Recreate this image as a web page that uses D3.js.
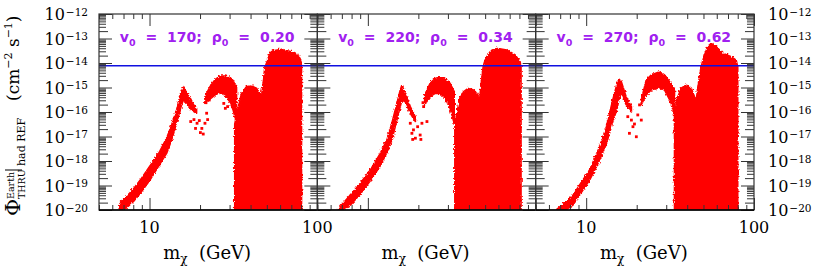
<!DOCTYPE html>
<html><head><meta charset="utf-8">
<script src="https://cdn.jsdelivr.net/npm/d3@7/dist/d3.min.js"></script>
<style>body{margin:0;background:#fff}svg{display:block}</style>
</head><body>
<script>
// ---------- data ----------
const v0Values = [170, 220, 270];
const rho0Values = ["0.20", "0.34", "0.62"];
const xTickLabels = [[10, 100], [], [10, 100]];
const yTickExponents = [-20, -19, -18, -17, -16, -15, -14, -13, -12];
const refFlux = 7.8e-15;   // horizontal blue reference line

// bands: [m_chi (GeV), log10 lower flux, log10 upper flux]
const p1Peak = [[6.6,-19.97,-19.85],[6.73,-19.97,-19.66],[7.14,-19.97,-19.52],[8.0,-19.66,-19.15],[8.97,-19.25,-18.70],[10.06,-18.78,-18.20],[11.28,-18.23,-17.72],[12.64,-17.69,-17.07],[13.54,-17.14,-16.53],[14.5,-16.46,-15.92],[15.31,-15.85,-15.24],[15.89,-15.51,-14.99],[16.78,-15.65,-15.24],[17.8,-15.92,-15.58],[19.07,-16.05,-15.85]];
const p1Arch = [[21.4,-15.68,-15.37],[22.9,-15.48,-14.97],[24.5,-15.31,-14.69],[26.3,-15.21,-14.53],[28.1,-15.31,-14.53],[30.1,-15.58,-14.58],[31.5,-15.92,-14.72],[33.0,-16.46,-15.03]];
// dense regions reaching below the axis: [m_chi, log10 upper flux]
const p1Main = [[32.2,-16.5],[33.8,-15.8],[35.3,-15.25],[37.8,-14.97],[40.5,-14.94],[43.4,-15.03],[45.4,-15.24],[46.4,-15.37],[47.5,-14.85],[48.6,-14.2],[49.8,-14.0],[50.9,-13.81],[52.1,-13.6],[54.5,-13.5],[61.2,-13.44],[70.1,-13.54],[76.8,-13.67],[79.7,-13.88],[80.5,-14.15]];
const p1Dots = [[17.6,-16.39],[18.4,-16.31],[18.8,-16.67],[19.2,-16.46],[19.8,-16.35],[20.1,-16.84],[20.9,-16.90],[20.5,-16.67],[21.4,-16.46],[21.9,-16.05],[22.2,-16.31],[21.7,-15.62],[22.7,-15.51],[27.7,-15.65],[28.3,-15.85],[29.2,-15.78]];

const p2Peak = [[6.7,-20.02,-19.95],[6.85,-20.02,-19.86],[7.86,-19.80,-19.39],[9.02,-19.35,-18.91],[10.34,-18.81,-18.37],[11.86,-18.20,-17.69],[12.99,-17.65,-17.14],[13.9,-17.14,-16.46],[14.9,-16.33,-15.65],[15.6,-15.78,-15.10],[15.96,-15.51,-14.90],[16.7,-15.58,-15.24],[17.9,-16.05,-15.78],[19.2,-16.39,-16.21]];
const p2Arch = [[21.8,-15.71,-15.31],[23.5,-15.37,-14.83],[25.2,-15.24,-14.63],[27.0,-15.24,-14.56],[28.9,-15.44,-14.63],[30.9,-15.85,-14.83],[32.7,-16.46,-15.17]];
const p2Main = [[33.0,-16.5],[33.9,-16.05],[35.5,-15.37],[37.2,-15.17],[39.8,-15.03],[42.6,-15.10],[44.6,-15.24],[46.3,-15.51],[47.1,-14.97],[48.4,-14.29],[48.8,-14.11],[50.0,-13.88],[51.2,-13.74],[53.6,-13.54],[58.7,-13.40],[67.3,-13.47],[75.5,-13.67],[80.8,-13.95],[81.8,-14.15]];
const p2Dots = [[17.9,-16.46],[18.3,-16.87],[18.7,-16.73],[19.8,-16.60],[20.5,-16.94],[21.0,-16.46],[19.2,-17.07],[18.5,-17.12],[20.7,-17.12],[22.5,-16.39],[21.5,-15.78],[21.3,-15.62]];

const p3Peak = [[6.6,-20.05,-20.0],[6.79,-20.05,-19.93],[7.61,-19.98,-19.66],[8.34,-19.80,-19.40],[9.14,-19.39,-18.98],[10.48,-18.78,-18.37],[12.02,-17.96,-17.42],[13.2,-17.30,-16.60],[14.4,-16.40,-15.51],[15.2,-15.92,-14.90],[15.8,-15.40,-14.67],[16.2,-15.20,-14.76],[17.3,-15.70,-15.38],[18.6,-16.00,-15.78]];
const p3Arch = [[21.3,-15.70,-15.51],[22.8,-15.30,-14.69],[24.4,-15.10,-14.49],[27.4,-15.00,-14.36],[29.3,-15.10,-14.49],[31.4,-15.50,-14.76],[33.6,-16.10,-15.10]];
const p3Main = [[33.6,-16.2],[34.4,-15.6],[35.2,-15.38],[36.8,-15.03],[39.4,-14.90],[42.3,-15.03],[44.2,-15.38],[45.3,-15.51],[46.3,-14.97],[48.4,-14.15],[50.7,-13.67],[53.0,-13.33],[55.6,-13.20],[59.5,-13.33],[65.2,-13.60],[73.1,-13.74],[78.3,-13.88],[80.0,-14.15]];
const p3Dots = [[17.7,-16.19],[18.6,-16.33],[19.0,-16.60],[19.9,-17.01],[21.3,-16.33],[20.3,-16.12],[18.1,-16.87],[19.4,-16.49],[20.8,-15.71]];

const panels = [
  {peak: p1Peak, arch: p1Arch, main: p1Main, dots: p1Dots},
  {peak: p2Peak, arch: p2Arch, main: p2Main, dots: p2Dots},
  {peak: p3Peak, arch: p3Arch, main: p3Main, dots: p3Dots}
];

// ---------- layout ----------
const W = 817, H = 273;
const Y_TOP = 14, Y_BOT = 210, LEFT = 99, PW = 218.33;
const RED = "#ff0000", BLUE = "#1010e0", PURPLE = "#a020f0", AX = "#333";
const SERIF = "'DejaVu Serif', serif";

const svg = d3.select("body").append("svg").attr("width", W).attr("height", H)
  .attr("font-family", SERIF);

const y = d3.scaleLog().domain([1e-20, 1e-12]).range([Y_BOT, Y_TOP]);
const p10 = e => Math.pow(10, e);
const defs = svg.append("defs");

// scatter-like texture: jagged edges
const f = defs.append("filter").attr("id", "scatter")
  .attr("x", "-5%").attr("y", "-5%").attr("width", "110%").attr("height", "110%")
  .attr("color-interpolation-filters", "sRGB");
f.append("feTurbulence").attr("type", "fractalNoise").attr("baseFrequency", 0.55)
  .attr("numOctaves", 1).attr("seed", 4).attr("result", "noise");
f.append("feDisplacementMap").attr("in", "SourceGraphic").attr("in2", "noise")
  .attr("scale", 4).attr("xChannelSelector", "R").attr("yChannelSelector", "G");

panels.forEach((p, i) => {
  const x0 = LEFT + i * PW;
  const x = d3.scaleLog().domain([5, 100]).range([x0, x0 + PW]);
  defs.append("clipPath").attr("id", "clip" + i).append("rect")
    .attr("x", x0).attr("y", Y_TOP).attr("width", PW).attr("height", Y_BOT - Y_TOP);
  const gc = svg.append("g").attr("clip-path", `url(#clip${i})`);
  const g = gc.append("g").attr("filter", "url(#scatter)");

  const band = d3.area().x(d => x(d[0])).y0(d => y(p10(d[1]))).y1(d => y(p10(d[2])));
  const main = d3.area().x(d => x(d[0])).y0(() => y(1e-21)).y1(d => y(p10(d[1])));
  [p.peak, p.arch].forEach(b => g.append("path").attr("d", band(b))
    .attr("fill", RED).attr("stroke", RED).attr("stroke-width", 1.6).attr("stroke-linejoin", "round"));
  g.append("path").attr("d", main(p.main)).attr("fill", RED).attr("stroke", RED)
    .attr("stroke-width", 1.6).attr("stroke-linejoin", "round");
  gc.selectAll("rect.dot").data(p.dots).join("rect").attr("class", "dot")
    .attr("x", d => x(d[0]) - 1.4).attr("y", d => y(p10(d[1])) - 1.4)
    .attr("width", 2.8).attr("height", 2.8).attr("fill", RED);

  // reference line
  svg.append("line").attr("x1", x0).attr("x2", x0 + PW)
    .attr("y1", y(refFlux)).attr("y2", y(refFlux))
    .attr("stroke", BLUE).attr("stroke-width", 1.5);

  // ticks via d3 axes
  const xt = x.ticks();
  const xMajor = xt.filter(t => Math.abs(Math.log10(t) - Math.round(Math.log10(t))) < 1e-9);
  const xMinor = xt.filter(t => !xMajor.includes(t));
  const noDom = s => s.select(".domain").remove();
  const styleT = s => s.selectAll("line").attr("stroke", AX);
  [[xMinor, 5], [xMajor, 12]].forEach(([vals, len]) => {
    svg.append("g").attr("transform", `translate(0,${Y_BOT})`)
      .call(d3.axisBottom(x).tickValues(vals).tickSize(-len).tickFormat("")).call(noDom).call(styleT);
    svg.append("g").attr("transform", `translate(0,${Y_TOP})`)
      .call(d3.axisTop(x).tickValues(vals).tickSize(-len).tickFormat("")).call(noDom).call(styleT);
  });
  const yt = y.ticks();
  const mant = t => Math.round(t / p10(Math.floor(Math.log10(t) + 1e-9)));
  const yMajor = yt.filter(t => mant(t) === 1);
  const yMid = yt.filter(t => mant(t) === 2);
  const yMinor = yt.filter(t => mant(t) > 2);
  [[yMinor, 7], [yMid, 9], [yMajor, 13]].forEach(([vals, len]) => {
    svg.append("g").attr("transform", `translate(${x0},0)`)
      .call(d3.axisLeft(y).tickValues(vals).tickSize(-len).tickFormat("")).call(noDom).call(styleT);
    svg.append("g").attr("transform", `translate(${x0 + PW},0)`)
      .call(d3.axisRight(y).tickValues(vals).tickSize(-len).tickFormat("")).call(noDom).call(styleT);
  });

  // frame
  svg.append("rect").attr("x", x0).attr("y", Y_TOP).attr("width", PW).attr("height", Y_BOT - Y_TOP)
    .attr("fill", "none").attr("stroke", AX).attr("stroke-width", 1.2);
  svg.append("line").attr("x1", x0).attr("x2", x0 + PW).attr("y1", Y_BOT).attr("y2", Y_BOT)
    .attr("stroke", "#000").attr("stroke-width", 1.6);

  // x tick labels
  xTickLabels[i].forEach(v => {
    svg.append("text").attr("x", x(v)).attr("y", 233).attr("text-anchor", "middle")
      .attr("font-size", 16).text(v);
  });

  // x axis title
  const xt2 = svg.append("text").attr("x", x0 + PW / 2 - 1).attr("y", 259)
    .attr("text-anchor", "middle").attr("font-size", 18).style("white-space", "pre");
  xt2.append("tspan").text("m");
  xt2.append("tspan").attr("font-size", 12).attr("dy", 4).text("χ");
  xt2.append("tspan").attr("dy", -4).text("  (GeV)");

  // panel title
  const tt = svg.append("text").attr("x", x0 + PW / 2 - 1).attr("y", 41.5)
    .attr("text-anchor", "middle").attr("font-family", "'DejaVu Sans', sans-serif")
    .attr("font-weight", "bold").attr("font-size", 14).attr("fill", PURPLE)
    .style("white-space", "pre").attr("word-spacing", 5);
  tt.append("tspan").text("v");
  tt.append("tspan").attr("font-size", 9.5).attr("dy", 4).text("0");
  tt.append("tspan").attr("dy", -4).text(` = ${v0Values[i]}; ρ`);
  tt.append("tspan").attr("font-size", 9.5).attr("dy", 4).text("0");
  tt.append("tspan").attr("dy", -4).text(` = ${rho0Values[i]}`);
});

// y tick labels (left of panel 1, right of panel 3)
function yLabel(xPos, anchor, e) {
  const t = svg.append("text").attr("x", xPos).attr("y", y(p10(e)) + 6)
    .attr("text-anchor", anchor).attr("font-size", 16);
  t.append("tspan").text("10");
  t.append("tspan").attr("font-size", 10.5).attr("dy", -4.5).attr("dx", 1).text("−" + Math.abs(e));
}
yTickExponents.forEach(e => { yLabel(88, "end", e); yLabel(768, "start", e); });

// y axis title (rotated)
const yg = svg.append("g").attr("transform", "rotate(-90)");
function rt(sx, sy, size, txt) {
  return yg.append("text").attr("x", -sy).attr("y", sx).attr("font-size", size).text(txt);
}
rt(20, 216, 21, "Φ");
rt(14, 199, 9.5, "Earth");
rt(25, 199, 9.5, "THRU");
yg.append("line").attr("x1", -170).attr("x2", -170).attr("y1", 5).attr("y2", 22).attr("stroke", "#000").attr("stroke-width", 1);
rt(25, 166, 11, "had REF");
const unit = rt(18.5, 101, 17, "(cm");
unit.append("tspan").attr("font-size", 11).attr("dy", -7).text("−2");
unit.append("tspan").attr("dy", 7).text(" s");
unit.append("tspan").attr("font-size", 11).attr("dy", -7).text("−1");
unit.append("tspan").attr("dy", 7).text(")");
</script>
</body></html>
